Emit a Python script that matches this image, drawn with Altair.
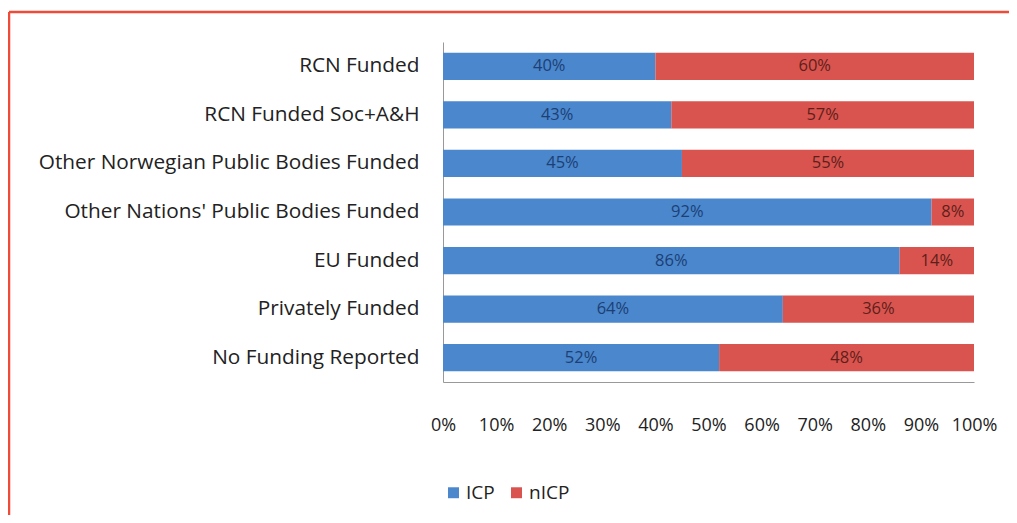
import altair as alt
import pandas as pd

categories = [
    "RCN Funded",
    "RCN Funded Soc+A&H",
    "Other Norwegian Public Bodies Funded",
    "Other Nations' Public Bodies Funded",
    "EU Funded",
    "Privately Funded",
    "No Funding Reported",
]
icp = [40, 43, 45, 92, 86, 64, 52]
nicp = [60, 57, 55, 8, 14, 36, 48]
series = ["ICP", "nICP"]
x_ticks = [0, 10, 20, 30, 40, 50, 60, 70, 80, 90, 100]

rows = []
for c, a, b in zip(categories, icp, nicp):
    rows.append({"cat": c, "series": "ICP", "order": 0, "value": a})
    rows.append({"cat": c, "series": "nICP", "order": 1, "value": b})
df = pd.DataFrame(rows)

FONT = "Open Sans"
W, H = 531, 340

base = alt.Chart(df).transform_stack(
    stack="value", groupby=["cat"], as_=["v0", "v1"],
    sort=[alt.SortField("order", order="ascending")],
).transform_calculate(mid="(datum.v0 + datum.v1) / 2", txt="datum.value + '%'")

y_enc = alt.Y(
    "cat:N", sort=categories, title=None,
    scale=alt.Scale(paddingInner=0.44, paddingOuter=0.22),
    axis=alt.Axis(labelFont=FONT, labelFontSize=20.8, labelColor="#222222",
                  labelPadding=24, ticks=False, domain=True,
                  domainColor="#999999", labelLimit=500),
)

bars = base.mark_bar().encode(
    x=alt.X("v0:Q", title=None,
            scale=alt.Scale(domain=[0, 100], nice=False),
            axis=alt.Axis(values=x_ticks, labelExpr="datum.value + '%'",
                          labelFont=FONT, labelFontSize=18, labelColor="#222222",
                          labelPadding=34, ticks=False, grid=False,
                          labelOverlap=False, labelFlush=False,
                          domain=True, domainColor="#999999")),
    x2="v1:Q",
    y=y_enc,
    color=alt.Color("series:N", scale=alt.Scale(domain=series, range=["#4a87cc", "#d9544f"]),
                    legend=alt.Legend(title=None, orient="none", legendX=1, legendY=441,
                                      direction="horizontal", symbolType="square",
                                      symbolSize=120, symbolStrokeWidth=0,
                                      labelFont=FONT, labelFontSize=19, labelColor="#222222",
                                      columnPadding=12, labelOffset=3)),
)

labels = base.mark_text(font=FONT, fontSize=16.5).encode(
    x="mid:Q",
    y=alt.Y("cat:N", sort=categories),
    text="txt:N",
    color=alt.Color("series:N", scale=alt.Scale(domain=series, range=["#1d3f75", "#5e1f1a"]), legend=None),
)

border_left = alt.Chart(pd.DataFrame({"a": [0]})).mark_rule(color="#f04a38", strokeWidth=2.5).encode(
    x=alt.value(-434), y=alt.value(-30), y2=alt.value(480))
border_top = alt.Chart(pd.DataFrame({"a": [0]})).mark_rule(color="#f04a38", strokeWidth=2.5).encode(
    x=alt.value(-434), x2=alt.value(566), y=alt.value(-30))

chart = alt.layer(bars, labels, border_left, border_top).resolve_scale(color="independent").properties(
    width=W, height=H,
    background="white",
    autosize=alt.AutoSizeParams(type="none"),
    padding={"left": 435, "top": 34, "right": 35, "bottom": 133},
).configure_view(strokeWidth=0, stroke="transparent")

chart.save("out.html", embed_options={"renderer": "svg", "actions": False})
